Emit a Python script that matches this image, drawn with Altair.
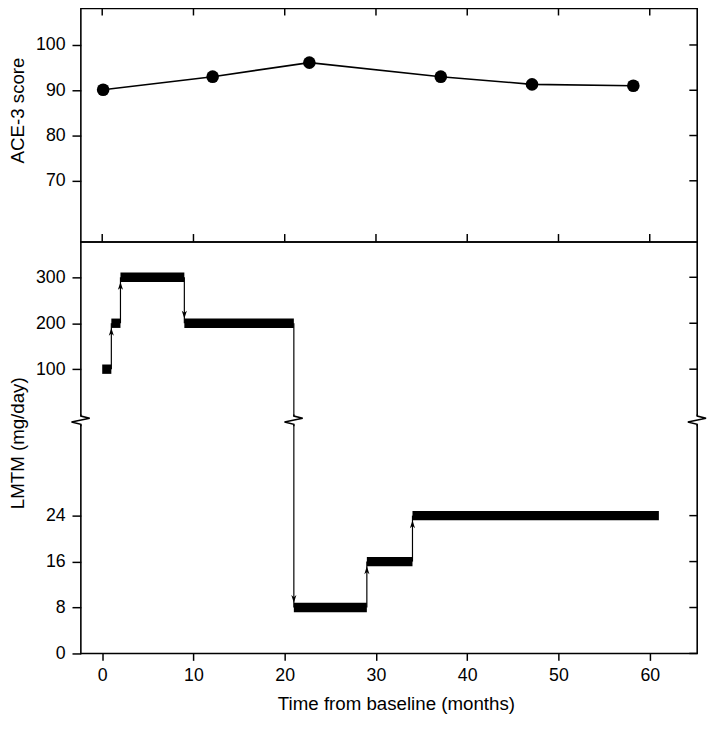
import altair as alt
import pandas as pd

# ---------------- data ----------------
ACE_MONTHS = [0.1, 12.1, 22.7, 37.1, 47.1, 58.2]
ACE_SCORES = [90.1, 93.0, 96.1, 93.0, 91.3, 91.0]

DOSE_START = [0, 1, 2, 9, 21, 29, 34]
DOSE_END = [1, 2, 9, 21, 29, 34, 61]
DOSE_MG = [100, 200, 300, 200, 8, 16, 24]

X_TICKS = [0, 10, 20, 30, 40, 50, 60]
ACE_TICKS = [70, 80, 90, 100]
LOW_TICKS = [0, 8, 16, 24]
HIGH_TICKS = [100, 200, 300]

X_DOMAIN = [-2.34, 65.2]
ACE_DOMAIN = [56.5, 108.04]

# broken dose axis: lower segment (mg) 1:1, upper segment compressed and shifted
LOW_MAX = 24
UPPER_SHIFT = 41.5
UPPER_SCALE = 0.08
BREAK_AT = 40.6
DOSE_DOMAIN = [0, 71.66]

FONT = "Liberation Sans"
W = 626
H_TOP = 237
H_BOT = 418


def pos(v):
    return v if v <= LOW_MAX else UPPER_SHIFT + UPPER_SCALE * v


xs = alt.Scale(domain=X_DOMAIN, nice=False, zero=False)
ys_top = alt.Scale(domain=ACE_DOMAIN, nice=False, zero=False)
ys_bot = alt.Scale(domain=DOSE_DOMAIN, nice=False, zero=False)

y_tick_pos = [pos(v) for v in LOW_TICKS + HIGH_TICKS]
label_expr = (
    f"datum.value > {BREAK_AT} ? format(round((datum.value - {UPPER_SHIFT}) / {UPPER_SCALE}), 'd')"
    " : format(datum.value, 'd')"
)

AX_TOP_Y = alt.Axis(
    values=ACE_TICKS, title="ACE-3 score", titleX=-54, titleY=103,
    tickSize=9, labelPadding=7, orient="left",
)
AX_BOT_Y = alt.Axis(
    values=y_tick_pos, labelExpr=label_expr, title="LMTM (mg/day)",
    titleX=-54, titleY=204, tickSize=9, labelPadding=7, orient="left",
)
AX_BOT_X = alt.Axis(
    values=X_TICKS, title="Time from baseline (months)", tickSize=7,
    labelPadding=6, titleX=320, titleY=42, orient="bottom",
)


def xtop(field):
    return alt.X(field, scale=xs, axis=None)


def ytop(field):
    return alt.Y(field, scale=ys_top, axis=AX_TOP_Y)


def xbot(field):
    return alt.X(field, scale=xs, axis=AX_BOT_X)


def ybot(field):
    return alt.Y(field, scale=ys_bot, axis=AX_BOT_Y)


# ---------------- top panel: ACE-3 ----------------
ace = pd.DataFrame({"month": ACE_MONTHS, "score": ACE_SCORES})
ace_base = alt.Chart(ace).encode(x=xtop("month:Q"), y=ytop("score:Q"))
ace_line = ace_base.mark_line(color="black", strokeWidth=1.6)
ace_pts = ace_base.mark_circle(color="black", size=165, opacity=1)

xt = pd.DataFrame({"t": X_TICKS})
top_ticks_a = alt.Chart(xt).mark_rule(color="black", strokeWidth=1.5).encode(
    x=xtop("t:Q"), y=alt.value(0), y2=alt.value(7)
)
top_ticks_b = alt.Chart(xt).mark_rule(color="black", strokeWidth=1.5).encode(
    x=xtop("t:Q"), y=alt.value(H_TOP - 8), y2=alt.value(H_TOP)
)
at = pd.DataFrame({"t": ACE_TICKS})
top_ticks_r = alt.Chart(at).mark_rule(color="black", strokeWidth=1.5).encode(
    y=ytop("t:Q"), x=alt.value(W - 8), x2=alt.value(W)
)

top = alt.layer(ace_line, ace_pts, top_ticks_a, top_ticks_b, top_ticks_r).properties(
    width=W, height=H_TOP
)

# ---------------- bottom panel: LMTM dose ----------------
seg = pd.DataFrame({"start": DOSE_START, "end": DOSE_END, "dose": DOSE_MG})
seg["p"] = seg["dose"].map(pos)

arr = pd.DataFrame(
    {
        "x": DOSE_END[:-1],
        "p_from": [pos(v) for v in DOSE_MG[:-1]],
        "p_to": [pos(v) for v in DOSE_MG[1:]],
        "dir": ["up" if b > a else "down" for a, b in zip(DOSE_MG[:-1], DOSE_MG[1:])],
    }
)
cross = arr[(arr["p_from"] - BREAK_AT) * (arr["p_to"] - BREAK_AT) < 0][["x"]].copy()
cross["b"] = BREAK_AT

bars = alt.Chart(seg).mark_rule(color="black", strokeWidth=9.5, strokeCap="butt").encode(
    x=xbot("start:Q"), x2="end:Q", y=ybot("p:Q")
)

arrow_lines = alt.Chart(arr).mark_rule(color="black", strokeWidth=1.2).encode(
    x=xbot("x:Q"), y=ybot("p_from:Q"), y2="p_to:Q"
)

HEAD_UP = "M0,-1 L0.65,1 L0,0.45 L-0.65,1 Z"
HEAD_DOWN = "M0,1 L0.65,-1 L0,-0.45 L-0.65,-1 Z"
heads_up = (
    alt.Chart(arr)
    .transform_filter(alt.datum.dir == "up")
    .mark_point(shape=HEAD_UP, filled=True, color="black", size=64, opacity=1, yOffset=8.75)
    .encode(x=xbot("x:Q"), y=ybot("p_to:Q"))
)
heads_down = (
    alt.Chart(arr)
    .transform_filter(alt.datum.dir == "down")
    .mark_point(shape=HEAD_DOWN, filled=True, color="black", size=64, opacity=1, yOffset=-8.75)
    .encode(x=xbot("x:Q"), y=ybot("p_to:Q"))
)

ZIG = "M0,-0.6 L0,-0.43 L0.9,-0.2 L-0.95,0.17 L0,0.4 L0,0.6"
COVER = "M-0.35,-0.45 L0.35,-0.45 L0.35,0.42 L-0.35,0.42 Z"
brk_df = pd.DataFrame({"b": [BREAK_AT]})


def break_marks(data, xenc):
    cover = alt.Chart(data).mark_point(
        shape=COVER, filled=True, color="white", strokeWidth=0, size=400, opacity=1
    ).encode(x=xenc, y=ybot("b:Q"))
    zig = alt.Chart(data).mark_point(
        shape=ZIG, filled=False, color="black", strokeWidth=1.5, size=400, opacity=1
    ).encode(x=xenc, y=ybot("b:Q"))
    return [cover, zig]


bt = pd.DataFrame({"t": y_tick_pos})
bot_ticks_r = alt.Chart(bt).mark_rule(color="black", strokeWidth=1.5).encode(
    y=ybot("t:Q"), x=alt.value(W - 8), x2=alt.value(W)
)

bottom = alt.layer(
    bars,
    arrow_lines,
    bot_ticks_r,
    *break_marks(cross, xbot("x:Q")),
    *break_marks(brk_df, alt.value(0)),
    *break_marks(brk_df, alt.value(W)),
    heads_up,
    heads_down,
).properties(width=W, height=H_BOT)

chart = (
    alt.vconcat(top, bottom, spacing=0, bounds="flush")
    .properties(padding={"left": 0, "top": -7, "right": 0, "bottom": 0})
    .configure_view(stroke="black", strokeWidth=1.6)
    .configure_axis(
        labelFont=FONT,
        titleFont=FONT,
        labelFontSize=18,
        titleFontSize=19,
        titleFontWeight="normal",
        labelColor="black",
        titleColor="black",
        tickColor="black",
        tickWidth=1.5,
        domain=False,
        grid=False,
    )
)

chart.save("out.html", embed_options={"renderer": "svg", "actions": False})
